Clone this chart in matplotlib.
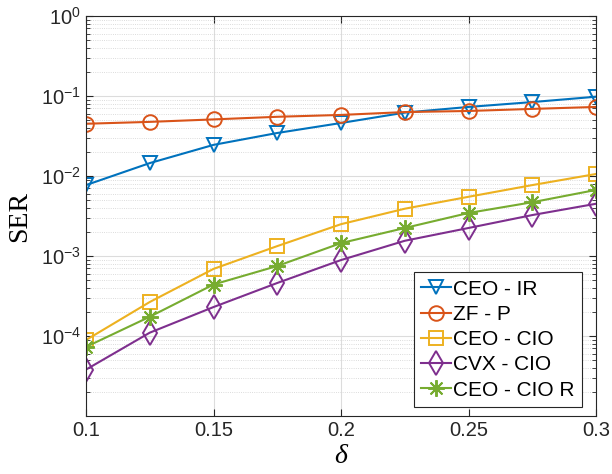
import numpy as np
import matplotlib.pyplot as plt
from matplotlib.ticker import LogLocator, NullFormatter

plt.rcParams['font.family'] = ['Liberation Sans', 'DejaVu Sans']
plt.rcParams['mathtext.default'] = 'regular'

delta = [0.1, 0.125, 0.15, 0.175, 0.2, 0.225, 0.25, 0.275, 0.3]
ceo_ir = [7.7e-3, 1.45e-2, 2.45e-2, 3.45e-2, 4.6e-2, 6.2e-2, 7.3e-2, 8.4e-2, 9.8e-2]
zf_p = [4.5e-2, 4.75e-2, 5.1e-2, 5.5e-2, 5.8e-2, 6.3e-2, 6.5e-2, 6.9e-2, 7.3e-2]
ceo_cio = [8.9e-5, 2.66e-4, 6.9e-4, 1.33e-3, 2.5e-3, 3.9e-3, 5.5e-3, 7.7e-3, 1.06e-2]
cvx_cio = [3.8e-5, 1.1e-4, 2.3e-4, 4.6e-4, 8.9e-4, 1.55e-3, 2.24e-3, 3.25e-3, 4.5e-3]
ceo_cio_r = [7.3e-5, 1.74e-4, 4.4e-4, 7.5e-4, 1.45e-3, 2.24e-3, 3.45e-3, 4.7e-3, 6.7e-3]

labels = ['CEO - IR', 'ZF - P', 'CEO - CIO', 'CVX - CIO', 'CEO - CIO R']
colors = ['#0072BD', '#D95319', '#EDB120', '#7E2F8E', '#77AC30']
markers = ['v', 'o', 's', 'd', (8, 2, 0)]
msizes = [10, 10.5, 9.5, 12, 12]
series = [ceo_ir, zf_p, ceo_cio, cvx_cio, ceo_cio_r]

ytick_vals = [1e-4, 1e-3, 1e-2, 1e-1, 1e0]
ytick_labels = ['$10^{-4}$', '$10^{-3}$', '$10^{-2}$', '$10^{-1}$', '$10^{0}$']
xtick_vals = [0.1, 0.15, 0.2, 0.25, 0.3]
xtick_labels = ['0.1', '0.15', '0.2', '0.25', '0.3']

fig = plt.figure(figsize=(6.12, 4.74), dpi=100)
ax = fig.add_axes([0.1405, 0.1224, 0.8335, 0.8438])

for y, lab, c, m, ms in zip(series, labels, colors, markers, msizes):
    ax.plot(delta, y, color=c, marker=m, markersize=ms, markerfacecolor='none',
            markeredgewidth=1.4, linewidth=1.5, label=lab)

ax.set_yscale('log')
ax.set_xlim(0.1, 0.3)
ax.set_ylim(1e-5, 1)
ax.set_xticks(xtick_vals)
ax.set_xticklabels(xtick_labels)
ax.set_yticks(ytick_vals)
ax.set_yticklabels(ytick_labels)
ax.yaxis.set_minor_locator(LogLocator(base=10, subs=np.arange(2, 10), numticks=20))
ax.yaxis.set_minor_formatter(NullFormatter())

ax.grid(True, which='major', color='#dcdcdc', linewidth=0.8, linestyle='-')
ax.grid(True, which='minor', axis='y', color='#d0d0d0', linewidth=0.6, linestyle=':')
ax.set_axisbelow(True)

ax.tick_params(which='both', direction='in', top=True, right=True, colors='#262626',
               labelsize=14.5)
ax.tick_params(which='major', length=5, width=0.8)
ax.tick_params(which='minor', length=3, width=0.6)
for s in ax.spines.values():
    s.set_color('#262626')
    s.set_linewidth(0.8)

ax.set_xlabel('δ', family=['Liberation Serif', 'DejaVu Serif'], style='italic',
              fontsize=20, labelpad=3)
ax.set_ylabel('SER', family=['Liberation Serif', 'DejaVu Serif'], fontsize=20,
              labelpad=6)

leg = ax.legend(loc='lower right', bbox_to_anchor=(0.9725, 0.0225), fontsize=15,
                fancybox=False, framealpha=1, edgecolor='#262626',
                handlelength=1.45, handletextpad=0.1, borderpad=0.35,
                labelspacing=0.3, borderaxespad=0)
leg.get_frame().set_linewidth(0.8)

fig.savefig('out.png', dpi=100)
